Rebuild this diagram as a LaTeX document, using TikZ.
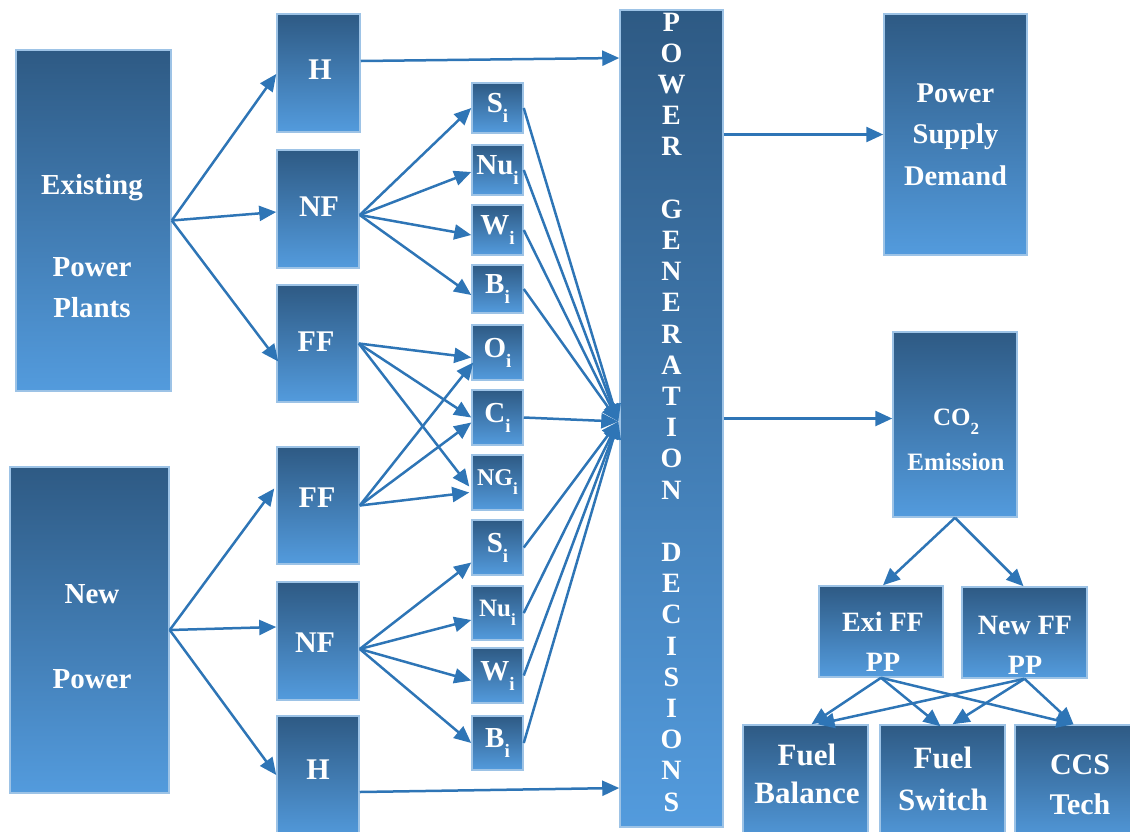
\documentclass[tikz,border=0pt]{standalone}
\usepackage{fontspec}
\setmainfont{Liberation Serif}
\usetikzlibrary{arrows.meta,calc}
\definecolor{topc}{HTML}{2E5A84}
\definecolor{botc}{HTML}{539BDD}
\definecolor{edgec}{HTML}{9DC3E6}
\definecolor{arrc}{HTML}{2E75B6}
\newcommand\mkbox[5]{\node[box, minimum width={#4-#2}, minimum height={#5-#3}] (#1) at ({(#2+#4)/2},{(#3+#5)/2}) {};}
\newcommand\sbi[1]{\raisebox{-10pt}{\fontsize{19}{19}\selectfont #1}}
\newcommand\sbs[1]{\raisebox{-9pt}{\fontsize{17}{17}\selectfont #1}}
\begin{document}
\begin{tikzpicture}[x=1pt,y=-1pt,
  box/.style={rectangle, inner sep=0pt, top color=topc, bottom color=botc, draw=edgec, line width=1.5pt},
  lbl/.style={text=white, align=center, inner sep=0pt},
  fA/.style={font=\fontsize{30}{36}\selectfont\bfseries},
  fB/.style={font=\fontsize{29}{35}\selectfont\bfseries},
  arr/.style={draw=arrc, line width=2.5pt, -{Triangle[length=17pt,width=15pt]}},
]
\useasboundingbox (0,0) rectangle (1130,831);
\clip (0,0) rectangle (1130,831);
% boxes
\mkbox{ex}{16}{50}{171}{391}
\mkbox{nw}{10}{467}{169}{793}
\mkbox{h1}{277}{14}{360}{132}
\mkbox{nf1}{277}{150}{359}{268}
\mkbox{ff1}{277}{285}{358}{402}
\mkbox{ff2}{277}{447}{359}{564}
\mkbox{nf2}{277}{582}{359}{700}
\mkbox{h2}{277}{716}{359}{840}
\mkbox{s1}{472}{83}{523}{133}
\mkbox{nu1}{472}{145}{523}{195}
\mkbox{w1}{472}{205}{523}{255}
\mkbox{b1}{472}{265}{523}{313}
\mkbox{o1}{472}{325}{523}{380}
\mkbox{c1}{472}{390}{523}{445}
\mkbox{ng1}{472}{455}{523}{510}
\mkbox{s2}{472}{520}{523}{575}
\mkbox{nu2}{472}{586}{523}{640}
\mkbox{w2}{472}{648}{523}{703}
\mkbox{b2}{472}{716}{523}{770}
\mkbox{pgd}{620}{10}{723}{827}
\mkbox{psd}{884}{14}{1027}{255}
\mkbox{co2}{893}{332}{1017}{517}
\mkbox{exi}{819}{586}{943}{677}
\mkbox{nff}{962}{587}{1087}{678}
\mkbox{fb}{743}{725}{868}{845}
\mkbox{fs}{880}{725}{1005}{845}
\mkbox{ccs}{1015}{725}{1140}{845}
% labels
\node[lbl, font=\fontsize{29}{41}\selectfont\bfseries] (exT) at (92,246) {Existing\\\mbox{}\\Power\\Plants};
\node[lbl, font=\fontsize{29}{42.5}\selectfont\bfseries] (nwT) at (92,636.5) {New\\\mbox{}\\Power};
\node[lbl, fA] (h1T) at (320,70) {H};
\node[lbl, fA] (nf1T) at (319,207) {NF};
\node[lbl, fA] (ff1T) at (316,342) {FF};
\node[lbl, fA] (ff2T) at (317,498) {FF};
\node[lbl, fA] (nf2T) at (315,643) {NF};
\node[lbl, fA] (h2T) at (318,770) {H};
\node[lbl, fB] (s1T) at (s1) {S\sbi{i}};
\node[lbl, fB] (nu1T) at (nu1) {Nu\sbi{i}};
\node[lbl, fB] (w1T) at (w1) {W\sbi{i}};
\node[lbl, fB] (b1T) at (b1) {B\sbi{i}};
\node[lbl, fB] (o1T) at (o1) {O\sbi{i}};
\node[lbl, fB] (c1T) at (c1) {C\sbi{i}};
\node[lbl, font=\fontsize{24}{28}\selectfont\bfseries] (ng1T) at (ng1) {NG\sbs{i}};
\node[lbl, fB] (s2T) at (s2) {S\sbi{i}};
\node[lbl, font=\fontsize{25}{30}\selectfont\bfseries] (nu2T) at (nu2) {Nu\sbs{i}};
\node[lbl, fB] (w2T) at (w2) {W\sbi{i}};
\node[lbl, fB] (b2T) at (b2) {B\sbi{i}};
\node[lbl, font=\fontsize{28}{31.2}\selectfont\bfseries] (pgdT) at (671.5,412) {P\\O\\W\\E\\R\\\mbox{}\\G\\E\\N\\E\\R\\A\\T\\I\\O\\N\\\mbox{}\\D\\E\\C\\I\\S\\I\\O\\N\\S};
\node[lbl, font=\fontsize{28.5}{41.5}\selectfont\bfseries] (psdT) at (955.5,134.5) {Power\\Supply\\Demand};
\node[lbl, font=\fontsize{25}{45}\selectfont\bfseries] (co2T) at (956,439.5) {CO\sbs{2}\\Emission};
\node[lbl, font=\fontsize{28}{40}\selectfont\bfseries] (exiT) at (883,642) {Exi FF\\PP};
\node[lbl, font=\fontsize{28}{40}\selectfont\bfseries] (nffT) at (1025,645) {New FF\\PP};
\node[lbl, font=\fontsize{31}{38}\selectfont\bfseries] (fbT) at (807,774) {Fuel\\Balance};
\node[lbl, font=\fontsize{31}{42}\selectfont\bfseries] (fsT) at (943,779) {Fuel\\Switch};
\node[lbl, font=\fontsize{30}{40}\selectfont\bfseries] (ccsT) at (1080,785) {CCS\\Tech};
% connectors
\draw[arr] (ex.east) -- ($(h1.west)+(0,1)$);
\draw[arr] (ex.east) -- ($(nf1.west)+(0,3)$);
\draw[arr] (ex.east) -- ($(ff1.west)+(2,18)$);
\draw[arr] (nw.east) -- ($(ff2.west)+(-2,-17)$);
\draw[arr] (nw.east) -- ($(nf2.west)+(0,-14)$);
\draw[arr] (nw.east) -- ($(h2.west)+(0,-3)$);
\draw[arr] ($(h1.east)+(0,-12)$) -- ($(h1.east -| pgd.west)+(0,-15)$);
\draw[arr] ($(h2.east)+(0,14)$) -- ($(h2.east -| pgd.west)+(0,10)$);
\coordinate (nf1o) at ($(nf1.east)+(0,6)$);
\foreach \t/\d in {s1/0, nu1/2, w1/5, b1/6} \draw[arr] (nf1o) -- ($(\t.west)+(0,\d)$);
\foreach \t/\dx/\dy in {o1/0/5, c1/0/0, ng1/-2/4} \draw[arr] (ff1.east) -- ($(\t.west)+(\dx,\dy)$);
\foreach \t/\dx/\dy in {o1/2/10, c1/0/5, ng1/-2/10} \draw[arr] (ff2.east) -- ($(\t.west)+(\dx,\dy)$);
\coordinate (nf2o) at ($(nf2.east)+(0,8)$);
\foreach \t/\d in {s2/15, nu2/7, w2/5, b2/0} \draw[arr] (nf2o) -- ($(\t.west)+(0,\d)$);
\coordinate (pgdin) at ($(pgd.west)+(-1,3)$);
\foreach \s in {s1,nu1,w1,b1,c1,s2,nu2,w2,b2} \draw[arr] (\s.east) -- (pgdin);
\draw[arr] (pgd.east |- psd.west) -- (psd.west);
\coordinate (co2in) at ($(co2.west)+(0,-6)$);
\draw[arr] (pgd.east |- co2in) -- (co2in);
\draw[arr] (co2.south) -- ($(exi.north)+(2,0)$);
\draw[arr] (co2.south) -- ($(nff.north)+(-1,0)$);
\draw[arr] (exi.south) -- ($(fb.north)+(6,0)$);
\draw[arr] (exi.south) -- ($(fs.north)+(-2,2)$);
\draw[arr] (exi.south) -- ($(ccs.north)+(-4,0)$);
\draw[arr] (nff.south) -- ($(fb.north)+(12,0)$);
\draw[arr] (nff.south) -- ($(fs.north)+(10,0)$);
\draw[arr] (nff.south) -- ($(ccs.north)+(-4,0)$);
\end{tikzpicture}
\end{document}
